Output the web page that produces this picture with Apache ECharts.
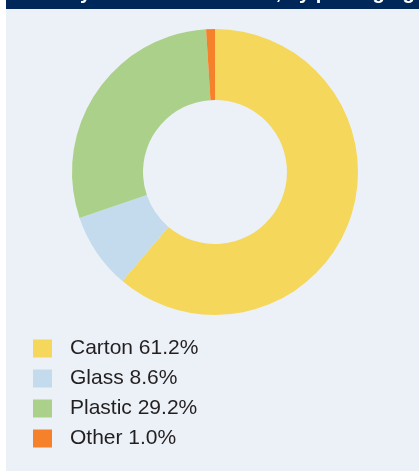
<!DOCTYPE html>
<html>
<head>
<meta charset="utf-8">
<script src="https://cdn.jsdelivr.net/npm/echarts@6/dist/echarts.min.js"></script>
<style>
  html, body { margin: 0; padding: 0; background: #ffffff; }
  #chart { width: 419px; height: 473px; }
</style>
</head>
<body>
<div id="chart"></div>
<script>
// data
const categories = ['Carton', 'Glass', 'Plastic', 'Other']
const shares = [61.2, 8.6, 29.2, 1.0]
const colors = ['#f5d75b', '#c4dbee', '#abd08a', '#f5822a']
const title = 'Sales by volume share 2023, by packaging'

const chart = echarts.init(document.getElementById('chart'))

const option = {
	animation: false,
	color: colors,
	graphic: [
		{ type: 'rect', silent: true, z: -10, shape: { x: 6, y: 0, width: 413, height: 471 }, style: { fill: '#ebf1f7' } },
		{ type: 'rect', silent: true, z: -9, shape: { x: 6, y: 0, width: 413, height: 9 }, style: { fill: '#00275a' } },
		{
			type: 'text', silent: true, z: -8, x: 10, y: 3,
			style: { text: title, fill: '#ffffff', font: 'bold 20px "Liberation Sans", Arial, sans-serif', verticalAlign: 'bottom' }
		}
	],
	legend: {
		orient: 'vertical',
		left: 33,
		top: 338,
		padding: 0,
		itemWidth: 19,
		itemHeight: 18,
		itemGap: 9,
		icon: 'rect',
		selectedMode: false,
		data: categories,
		formatter: function (name) {
			const i = categories.indexOf(name)
			return name + ' ' + shares[i].toFixed(1) + '%'
		},
		textStyle: {
			fontFamily: '"Liberation Sans", Arial, sans-serif',
			fontSize: 21,
			color: '#231f20',
			padding: [0, 0, 0, 13]
		}
	},
	series: [
		{
			type: 'pie',
			center: [215, 172],
			radius: [72, 143],
			startAngle: 90,
			clockwise: true,
			label: { show: false },
			labelLine: { show: false },
			emphasis: { disabled: true },
			itemStyle: { borderWidth: 0 },
			data: categories.map((c, i) => ({ name: c, value: shares[i] }))
		}
	]
}
chart.setOption(option)
</script>
</body>
</html>
